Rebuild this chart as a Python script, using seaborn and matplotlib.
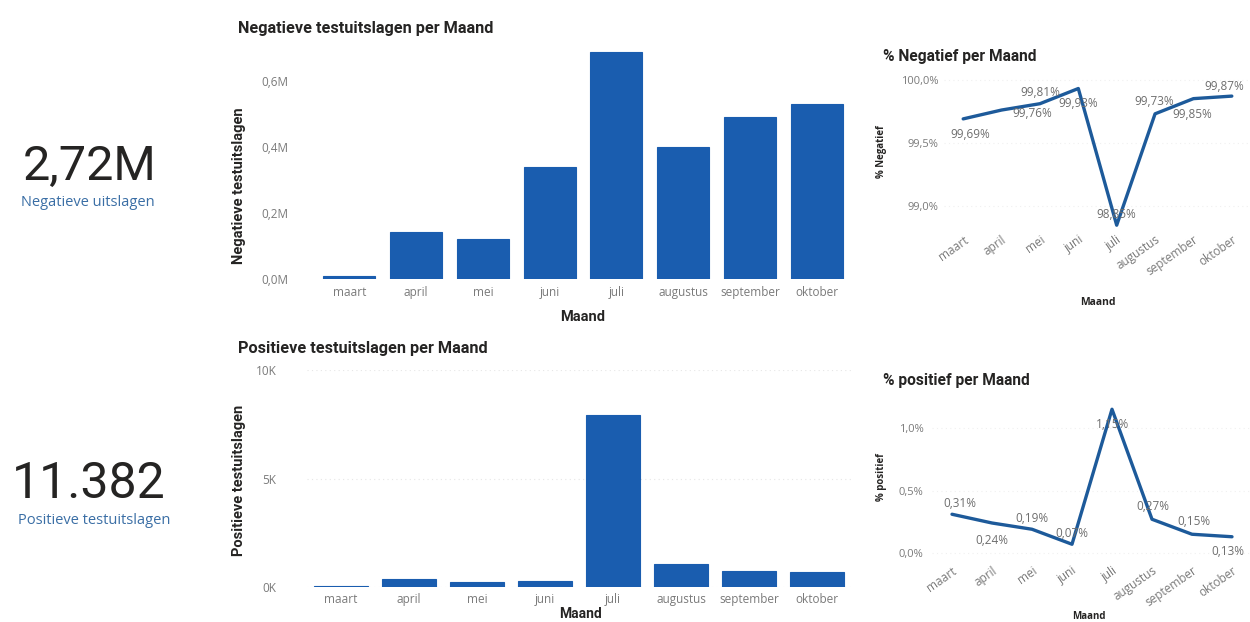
import matplotlib
matplotlib.use("Agg")
import matplotlib.pyplot as plt
import seaborn as sns
import pandas as pd
from matplotlib.ticker import FixedLocator, FuncFormatter

# ---------------- data ----------------
months = ["maart", "april", "mei", "juni", "juli", "augustus", "september", "oktober"]
negatief = [9000, 141500, 120000, 339000, 689000, 399000, 491000, 531000]
positief = [60, 360, 250, 280, 7918, 1070, 740, 704]
pct_negatief = [99.69, 99.76, 99.81, 99.93, 98.85, 99.73, 99.85, 99.87]
pct_positief = [0.31, 0.24, 0.19, 0.07, 1.15, 0.27, 0.15, 0.13]
kpi_neg_value = "2,72M"
kpi_neg_label = "Negatieve uitslagen"
kpi_pos_value = "11.382"
kpi_pos_label = "Positieve testuitslagen"

# ---------------- style ----------------
sns.set_theme(style="white")
plt.rcParams["font.family"] = ["Open Sans", "DejaVu Sans"]
plt.rcParams["axes.unicode_minus"] = False

BAR = "#1A5DAF"
LINE = "#1D5A9A"
TICK = "#7A7A7A"
DARK = "#252423"
TITLE_FONT = ["Roboto", "DejaVu Sans"]

W, H = 1250, 622
fig = plt.figure(figsize=(W / 100, H / 100), dpi=100)
fig.patch.set_facecolor("white")


def px(l, t, r, b):
    return [l / W, 1 - b / H, (r - l) / W, (b - t) / H]


def fx(x):
    return x / W


def fy(y):
    return 1 - y / H


def clean(ax):
    for s in ax.spines.values():
        s.set_visible(False)
    ax.tick_params(length=0, colors=TICK)


def comma(v, nd):
    return f"{v:.{nd}f}".replace(".", ",")


# ---------------- KPI cards ----------------
fig.text(fx(90), fy(167), kpi_neg_value, ha="center", va="center", fontsize=35,
         color=DARK, family=TITLE_FONT)
fig.text(fx(88), fy(203), kpi_neg_label, ha="center", va="center", fontsize=10.5,
         color="#3A6EA5")
fig.text(fx(89), fy(484), kpi_pos_value, ha="center", va="center", fontsize=36,
         color=DARK, family=TITLE_FONT)
fig.text(fx(94), fy(521), kpi_pos_label, ha="center", va="center", fontsize=10.5,
         color="#3A6EA5")

df = pd.DataFrame({"Maand": months, "neg": negatief, "pos": positief,
                   "pneg": pct_negatief, "ppos": pct_positief})

# ---------------- Negative bar chart ----------------
ax1 = fig.add_axes(px(316, 45, 850, 279))
sns.barplot(data=df, x="Maand", y="neg", order=months, color=BAR, saturation=1,
            width=0.78, edgecolor=BAR, linewidth=0.8, ax=ax1)
ax1.set_ylim(0, 709000)
ax1.set_xlim(-0.5, 7.5)
ax1.yaxis.set_major_locator(FixedLocator([0, 200000, 400000, 600000]))
ax1.yaxis.set_major_formatter(FuncFormatter(lambda v, p: comma(v / 1e6, 1) + "M"))
clean(ax1)
ax1.tick_params(axis="y", pad=20, labelsize=8.5)
ax1.tick_params(axis="x", pad=5, labelsize=8.5)
ax1.set_xlabel("Maand", fontsize=10.5, fontweight="bold", color=DARK, family=TITLE_FONT)
ax1.set_ylabel("Negatieve testuitslagen", fontsize=10.5, fontweight="bold", color=DARK,
               family=TITLE_FONT)
ax1.xaxis.set_label_coords(0.5, -0.132)
ax1.yaxis.set_label_coords(-0.131, 0.40)
fig.text(fx(238), fy(28), "Negatieve testuitslagen per Maand", ha="left", va="center",
         fontsize=11.7, fontweight="bold", color=DARK, family=TITLE_FONT)

# ---------------- Positive bar chart ----------------
ax2 = fig.add_axes(px(307, 370, 851, 587))
sns.barplot(data=df, x="Maand", y="pos", order=months, color=BAR, saturation=1,
            width=0.78, edgecolor=BAR, linewidth=0.8, ax=ax2)
ax2.set_ylim(0, 10000)
ax2.set_xlim(-0.5, 7.5)
ax2.yaxis.set_major_locator(FixedLocator([0, 5000, 10000]))
ax2.yaxis.set_major_formatter(FuncFormatter(lambda v, p: f"{int(v/1000)}K"))
ax2.yaxis.grid(True, color="#E6E6E6", linestyle=(0, (1, 3)), linewidth=0.8)
ax2.set_axisbelow(True)
clean(ax2)
ax2.tick_params(axis="y", pad=22, labelsize=8.5)
ax2.tick_params(axis="x", pad=4, labelsize=8.5)
ax2.set_xlabel("Maand", fontsize=10, fontweight="bold", color=DARK, family=TITLE_FONT)
ax2.set_ylabel("Positieve testuitslagen", fontsize=10.5, fontweight="bold", color=DARK,
               family=TITLE_FONT)
ax2.xaxis.set_label_coords(0.502, -0.094)
ax2.yaxis.set_label_coords(-0.112, 0.49)
fig.text(fx(238), fy(348), "Positieve testuitslagen per Maand", ha="left", va="center",
         fontsize=11.7, fontweight="bold", color=DARK, family=TITLE_FONT)

# ---------------- % Negatief line ----------------
ax3 = fig.add_axes(px(944, 67, 1251, 229))
sns.lineplot(data=df, x="Maand", y="pneg", sort=False, color=LINE, linewidth=2.4, ax=ax3)
ax3.set_xlim(-0.5, 7.5)
ax3.set_ylim(98.82, 100.1)
ax3.yaxis.set_major_locator(FixedLocator([99.0, 99.5, 100.0]))
ax3.yaxis.set_major_formatter(FuncFormatter(lambda v, p: comma(v, 1) + "%"))
ax3.yaxis.grid(True, color="#F0F0F0", linestyle=(0, (1, 3)), linewidth=0.8)
clean(ax3)
ax3.tick_params(axis="y", pad=4, labelsize=8)
ax3.tick_params(axis="x", pad=3, labelsize=8.5)
for lab in ax3.get_xticklabels():
    lab.set_rotation(35)
    lab.set_ha("right")
    lab.set_rotation_mode("anchor")
ax3.set_xlabel("Maand", fontsize=7.5, fontweight="bold", color=DARK)
ax3.set_ylabel("% Negatief", fontsize=7, fontweight="bold", color=DARK)
ax3.xaxis.set_label_coords(0.50, -0.42)
ax3.yaxis.set_label_coords(-0.186, 0.475)
neg_off = [(7, -16), (31, -3), (0, 11), (0, -15), (0, 11), (-1, 12), (-1, -16), (-8, 10)]
for i, (v, (dx, dy)) in enumerate(zip(pct_negatief, neg_off)):
    ax3.annotate(comma(v, 2) + "%", (i, v), xytext=(dx * 0.72, dy * 0.72),
                 textcoords="offset points", ha="center", va="center",
                 fontsize=8.5, color="#6E6E6E", annotation_clip=False)
fig.text(fx(883), fy(57), "% Negatief per Maand", ha="left", va="center",
         fontsize=11.2, fontweight="bold", color=DARK, family=TITLE_FONT)

# ---------------- % positief line ----------------
ax4 = fig.add_axes(px(932, 395, 1252, 560))
sns.lineplot(data=df, x="Maand", y="ppos", sort=False, color=LINE, linewidth=2.4, ax=ax4)
ax4.set_xlim(-0.5, 7.5)
ax4.set_ylim(-0.056, 1.264)
ax4.yaxis.set_major_locator(FixedLocator([0.0, 0.5, 1.0]))
ax4.yaxis.set_major_formatter(FuncFormatter(lambda v, p: comma(v, 1) + "%"))
ax4.yaxis.grid(True, color="#F0F0F0", linestyle=(0, (1, 3)), linewidth=0.8)
clean(ax4)
ax4.tick_params(axis="y", pad=6, labelsize=8)
ax4.tick_params(axis="x", pad=3, labelsize=8.5)
for lab in ax4.get_xticklabels():
    lab.set_rotation(35)
    lab.set_ha("right")
    lab.set_rotation_mode("anchor")
ax4.set_xlabel("Maand", fontsize=7, fontweight="bold", color=DARK)
ax4.set_ylabel("% positief", fontsize=7, fontweight="bold", color=DARK)
ax4.xaxis.set_label_coords(0.49, -0.31)
ax4.yaxis.set_label_coords(-0.14, 0.5)
pos_off = [(8, 11), (0, -17), (0, 11), (0, 11), (1, -15), (1, 13), (2, 13), (-4, -15)]
for i, (v, (dx, dy)) in enumerate(zip(pct_positief, pos_off)):
    ax4.annotate(comma(v, 2) + "%", (i, v), xytext=(dx * 0.72, dy * 0.72),
                 textcoords="offset points", ha="center", va="center",
                 fontsize=8.5, color="#6E6E6E", annotation_clip=False)
fig.text(fx(883), fy(380), "% positief per Maand", ha="left", va="center",
         fontsize=11.2, fontweight="bold", color=DARK, family=TITLE_FONT)

fig.savefig("out.png", dpi=100, facecolor="white")
